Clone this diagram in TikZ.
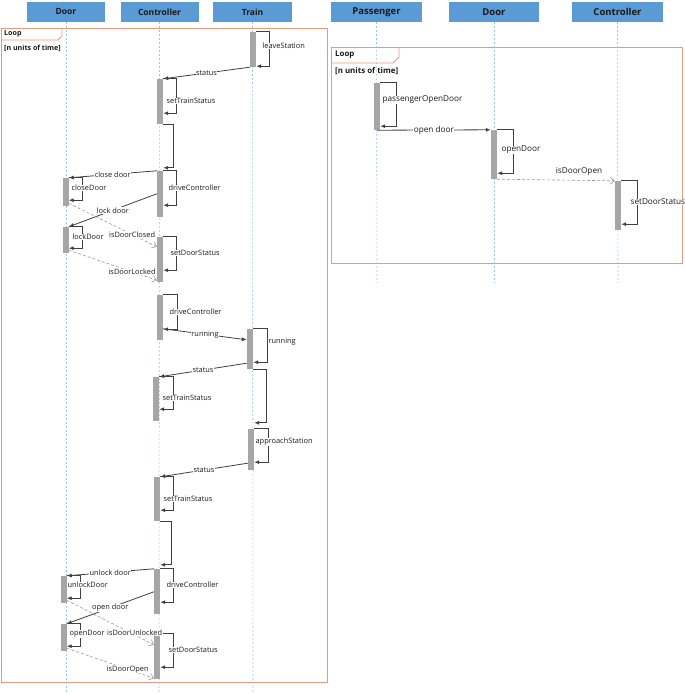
\documentclass[tikz,border=0pt]{standalone}
\usepackage{fontspec}
\setmainfont{Open Sans}
\usetikzlibrary{arrows.meta,calc}
\definecolor{hdrfill}{HTML}{5B9BD5}
\definecolor{lifeblue}{HTML}{9DC3E6}
\definecolor{framec}{HTML}{E59A80}
\definecolor{barc}{HTML}{A6A6A6}
\definecolor{msgc}{HTML}{404040}
\definecolor{replyc}{HTML}{9A9A9A}
\definecolor{txtc}{HTML}{1E1A1A}
\tikzset{
  hdr/.style={fill=hdrfill, minimum height=20pt, inner sep=0pt, font=\fontsize{8.5}{10}\selectfont\bfseries, text=black!90},
  hdrR/.style={hdr, font=\fontsize{9.5}{11}\selectfont\bfseries},
  lifeline/.style={draw=lifeblue, line width=0.6pt, dash pattern=on 2pt off 2pt},
  actbar/.style={fill=barc, draw=none, minimum width=6pt, inner sep=0pt},
  msg/.style={draw=msgc, line width=0.8pt, -{Latex[length=5pt,width=4pt]}},
  reply/.style={draw=replyc, line width=0.6pt, dash pattern=on 3pt off 2pt, -{Straight Barb[length=4pt,width=7pt]}},
  lbl/.style={font=\fontsize{7.4}{8}\selectfont, text=txtc, fill=white, inner sep=0.4pt},
  lblR/.style={lbl, font=\fontsize{8.2}{9}\selectfont},
  mlbl/.style={font=\fontsize{7.4}{8}\selectfont, text=txtc, fill=white, inner sep=0.4pt},
  mlblR/.style={mlbl, font=\fontsize{8.2}{9}\selectfont},
  frametab/.style={draw=framec, line width=0.8pt},
  framebox/.style={draw=framec, line width=0.9pt},
  ftext/.style={font=\fontsize{7.1}{8}\selectfont\bfseries, text=black!90, inner sep=0pt, anchor=west},
  ftextR/.style={ftext, font=\fontsize{7.9}{9}\selectfont\bfseries}
}
\newcommand\mkbar[4]{\node[actbar,minimum height={(#4-#3)*1pt}] (#1) at (#2,{(#3+#4)/2}) {};}
\newcommand\selfloop[3]{\draw[msg] (#1.north east) -- ++(#3,0) |- ([yshift=#2pt]#1.south east);}
\begin{document}
\begin{tikzpicture}[x=1pt,y=-1pt]
\useasboundingbox (0,0) rectangle (685,694);
\fill[white] (0,0) rectangle (685,694);

% frames
\draw[framebox] (1,28) rectangle (327,682);
\draw[frametab] (1,40) -- (58,40) -- (62,36) -- (62,28);
\node[ftext] (loopL) at (4,34) {Loop};
\node[ftext] (condL) at (4,48) {[n units of time]};

\draw[framebox] (331,47) rectangle (682,263);
\draw[frametab] (331,63) -- (393,63) -- (399,57) -- (399,47);
\node[ftextR] (loopR) at (335,55) {Loop};
\node[ftextR] (condR) at (335,71) {[n units of time]};

% headers
\node[hdr, minimum width=78pt] (hDoor) at (66,12) {Door};
\node[hdr, minimum width=78pt] (hCtl) at (159.5,12) {Controller};
\node[hdr, minimum width=79pt] (hTrain) at (252.5,12) {Train};
\node[hdrR, minimum width=91pt] (hPass) at (376.5,12) {Passenger};
\node[hdrR, minimum width=90pt] (hDoor2) at (494,12) {Door};
\node[hdrR, minimum width=91pt] (hCtl2) at (617.5,12) {Controller};

% lifelines
\coordinate (eDoor) at (66,694);
\coordinate (eCtl) at (159,694);
\coordinate (eTrain) at (253,694);
\coordinate (ePass) at (377,283);
\coordinate (eDoor2) at (494,283);
\coordinate (eCtl2) at (618,283);
\draw[lifeline] (hDoor.south) -- (eDoor);
\draw[lifeline] (hCtl.south) -- (eCtl);
\draw[lifeline] (hTrain.south) -- (eTrain);
\draw[lifeline] (hPass.south) -- (ePass);
\draw[lifeline] (hDoor2.south) -- (eDoor2);
\draw[lifeline] (hCtl2.south) -- (eCtl2);

% activation bars
\mkbar{T1}{253}{32}{67}
\mkbar{C1}{160}{79}{124}
\mkbar{C2}{160}{171}{217}
\mkbar{D1}{65.5}{178}{206}
\mkbar{D2}{65.5}{227}{253}
\mkbar{C3}{160}{237}{282}
\mkbar{C4}{160}{295}{340}
\mkbar{T2}{250}{329}{369}
\mkbar{C5}{156}{377}{421}
\mkbar{T3}{251}{429}{470}
\mkbar{C6}{157}{477}{521}
\mkbar{C7}{157}{569}{614}
\mkbar{D3}{63.5}{576}{603}
\mkbar{D4}{63.5}{624}{651}
\mkbar{C8}{157}{634}{679}
\mkbar{P1}{377}{83}{130}
\mkbar{R1}{494}{130}{179}
\mkbar{R2}{618}{181}{230}

% self calls
\selfloop{T1}{1}{13}
\selfloop{C1}{11}{13}
\selfloop{C2}{12}{13}
\selfloop{D1}{6}{13.5}
\selfloop{D2}{5}{13.5}
\selfloop{C3}{12}{13}
\selfloop{C4}{11}{14}
\selfloop{T2}{7}{14}
\selfloop{C5}{12}{14}
\selfloop{T3}{8}{14}
\selfloop{C6}{11}{13}
\selfloop{C7}{12}{13}
\selfloop{D3}{5}{13.5}
\selfloop{D4}{5}{13.5}
\selfloop{C8}{12}{13}
\selfloop{P1}{4}{16}
\selfloop{R1}{6}{16}
\selfloop{R2}{6}{16}

% continuation calls between bars
\draw[msg] (C1.south east) -- ++(10,0) |- ([yshift=3pt]C2.north east);
\draw[msg] (T2.south east) -- ++(13,0) |- ([yshift=6pt]T3.north east);
\draw[msg] (C6.south east) -- ++(11,0) |- ([yshift=4pt]C7.north east);

% self-call labels
\node[lbl,anchor=west] (lT1) at (262,46) {leaveStation};
\node[lbl,anchor=west] (lC1) at (166,101) {setTrainStatus};
\node[lbl,anchor=west] (lC2) at (168,188) {driveController};
\node[lbl,anchor=west] (lD1) at (71,188) {closeDoor};
\node[lbl,anchor=west] (lD2) at (72,237) {lockDoor};
\node[lbl,anchor=west] (lC3) at (170,253) {setDoorStatus};
\node[lbl,anchor=west] (lC4) at (169,312) {driveController};
\node[lbl,anchor=west] (lT2) at (268,342) {running};
\node[lbl,anchor=west] (lC5) at (162,398) {setTrainStatus};
\node[lbl,anchor=west] (lT3) at (255,442) {approachStation};
\node[lbl,anchor=west] (lC6) at (163,499) {setTrainStatus};
\node[lbl,anchor=west] (lD3) at (67,585) {unlockDoor};
\node[lbl,anchor=west] (lC7) at (166,585) {driveController};
\node[lbl,anchor=west] (lD4) at (69,634) {openDoor};
\node[lbl,anchor=west] (lC8) at (168,650) {setDoorStatus};
\node[lblR,anchor=west] (lP1) at (382,100) {passengerOpenDoor};
\node[lblR,anchor=west] (lR1) at (501,150) {openDoor};
\node[lblR,anchor=west] (lR2) at (630,202) {setDoorStatus};

% messages (left diagram)
\draw[msg] (T1.south west) -- node[mlbl] (m1) {status} (C1.north east);
\draw[msg] (C2.north west) -- node[mlbl] (m2) {close door} (D1.north east);
\draw[msg] ([yshift=-23pt]C2.north west) -- node[mlbl] (m3) {lock door} (D2.north east);
\draw[reply] ([yshift=3pt]D1.south east) -- node[mlbl,pos=0.72] (m4) {isDoorClosed} ([yshift=-10pt]C3.north west);
\draw[reply] ([yshift=3pt]D2.south east) -- node[mlbl,pos=0.72] (m5) {isDoorLocked} ([yshift=2pt]C3.south west);
\draw[msg] ([yshift=-34pt]C4.north east) -- node[mlbl] (m6) {running} ([yshift=-11pt]T2.north west);
\draw[msg] ([yshift=6pt]T2.south west) -- node[mlbl] (m7) {status} (C5.north east);
\draw[msg] ([yshift=7pt]T3.south west) -- node[mlbl] (m8) {status} (C6.north east);
\draw[msg] (C7.north west) -- node[mlbl] (m9) {unlock door} (D3.north east);
\draw[msg] ([yshift=-23pt]C7.north west) -- node[mlbl] (m10) {open door} (D4.north east);
\draw[reply] ([yshift=3pt]D3.south east) -- node[mlbl,pos=0.78,yshift=2pt] (m11) {isDoorUnlocked} ([yshift=-11pt]C8.north west);
\draw[reply] ([yshift=3pt]D4.south east) -- node[mlbl,pos=0.70] (m12) {isDoorOpen} ([yshift=1pt]C8.south west);

% messages (right diagram)
\draw[msg] (P1.south) -- node[mlblR] (m13) {open door} (R1.north west);
\draw[reply] (R1.south east) -- (R2.north west);
\node[font=\fontsize{8.2}{9}\selectfont, text=txtc, inner sep=0pt] (m14) at (579,171) {isDoorOpen};
\end{tikzpicture}
\end{document}
